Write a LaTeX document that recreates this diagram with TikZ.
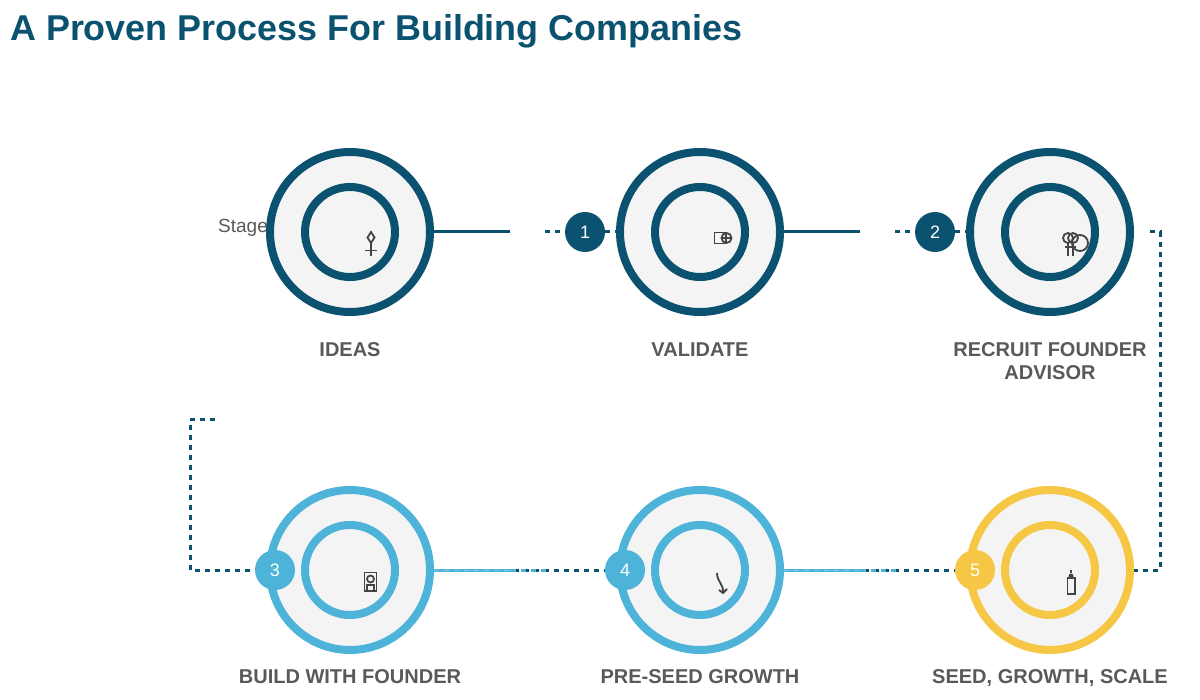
\documentclass[tikz,border=0pt]{standalone}
\usepackage{fontspec}
\setmainfont{Liberation Sans}
\usetikzlibrary{arrows,positioning,calc}
\definecolor{darkblue}{HTML}{0B5270}
\definecolor{lightblue}{HTML}{4DB3D8}
\definecolor{paleblue}{HTML}{7CC7E3}
\definecolor{sunyellow}{HTML}{F6C744}
\definecolor{ringfill}{HTML}{F4F4F4}
\definecolor{labelgray}{HTML}{595959}
\definecolor{icongray}{HTML}{444444}
\tikzset{
	outerring/.style={circle,draw=#1,fill=ringfill,line width=8pt,minimum size=160pt,inner sep=0pt},
	innerring/.style={circle,draw=#1,line width=8pt,minimum size=90pt,inner sep=0pt},
	badge/.style={circle,fill=#1,minimum size=40pt,inner sep=0pt,text=white,font=\fontsize{18}{21}\selectfont},
	stagelabel/.style={anchor=base,align=center,text=labelgray,font=\fontsize{20}{23}\selectfont\bfseries,inner sep=0pt},
	solidlink/.style={draw=#1,line width=3pt},
	dashlink/.style={draw=#1,line width=3pt,dash pattern=on 5pt off 5pt},
	icon/.style={draw=icongray,line width=1.8pt}
}
\begin{document}
\begin{tikzpicture}[x=1pt,y=-1pt]
	\useasboundingbox (0,0) rectangle (1200,700);
	\node[anchor=base west,inner sep=0pt,text=darkblue,font=\fontsize{35.9}{40}\selectfont\bfseries] (title) at (10,41) {A Proven Process For Building Companies};
	\node[anchor=base west,inner sep=0pt,text=labelgray,font=\fontsize{19}{23}\selectfont] (stage) at (218,233) {Stage};

	\node[outerring=darkblue] (ideas) at (350,232) {};
	\node[outerring=darkblue] (validate) at (700,232) {};
	\node[outerring=darkblue] (recruit) at (1050,232) {};
	\node[outerring=lightblue] (build) at (350,570) {};
	\node[outerring=lightblue] (preseed) at (700,570) {};
	\node[outerring=sunyellow] (seed) at (1050,570) {};

	\node[innerring=darkblue] (ideasin) at (ideas) {};
	\node[innerring=darkblue] (validatein) at (validate) {};
	\node[innerring=darkblue] (recruitin) at (recruit) {};
	\node[innerring=lightblue] (buildin) at (build) {};
	\node[innerring=lightblue] (preseedin) at (preseed) {};
	\node[innerring=sunyellow] (seedin) at (seed) {};

	\node[badge=darkblue] (one) at (585,232) {1};
	\node[badge=darkblue] (two) at (935,232) {2};
	\node[badge=lightblue] (three) at (275,570) {3};
	\node[badge=lightblue] (four) at (625,570) {4};
	\node[badge=sunyellow] (five) at (975,570) {5};

	\node[stagelabel] (ideaslabel) at (350,357) {IDEAS};
	\node[stagelabel] (validatelabel) at (700,357) {VALIDATE};
	\node[stagelabel] (recruitlabel) at (1050,380) {RECRUIT FOUNDER\\ADVISOR};
	\node[stagelabel] (buildlabel) at (350,683) {BUILD WITH FOUNDER};
	\node[stagelabel] (preseedlabel) at (700,683) {PRE-SEED GROWTH};
	\node[stagelabel] (seedlabel) at (1050,683) {SEED, GROWTH, SCALE};

	\coordinate (endone) at (510,232);
	\coordinate (startone) at (545,232);
	\coordinate (endtwo) at (860,232);
	\coordinate (starttwo) at (895,232);
	\coordinate (rightstart) at (1150,232);
	\coordinate (righttop) at (1160,232);
	\coordinate (rightbottom) at (1160,570);
	\coordinate (leftstart) at (215,420);
	\coordinate (lefttop) at (190,420);
	\coordinate (leftbottom) at (190,570);
	\coordinate (endfour) at (515,570);
	\coordinate (fadefour) at (547,570);
	\coordinate (endfive) at (865,570);
	\coordinate (fadefive) at (897,570);

	\draw[solidlink=darkblue] (ideas.east)--(endone);
	\draw[dashlink=darkblue] (startone)--(one.west);
	\draw[dashlink=darkblue] (one.east)--(validate.west);
	\draw[solidlink=darkblue] (validate.east)--(endtwo);
	\draw[dashlink=darkblue] (starttwo)--(two.west);
	\draw[dashlink=darkblue] (two.east)--(recruit.west);
	\draw[dashlink=darkblue] (rightstart)--(righttop)--(rightbottom)--(seed.east);
	\draw[dashlink=darkblue] (leftstart)--(lefttop)--(leftbottom)--(three.west);
	\draw[dashlink=darkblue] (build.east)--(four.west);
	\draw[dashlink=darkblue] (preseed.east)--(five.west);
	\draw[solidlink=lightblue] (build.east)--(endfour);
	\draw[dashlink=lightblue,dash phase=4pt] (endfour)--(fadefour);
	\draw[solidlink=lightblue] (preseed.east)--(endfive);
	\draw[dashlink=lightblue,dash phase=4pt] (endfive)--(fadefive);
	\draw[draw=paleblue,line width=0.8pt,dash pattern=on 5pt off 5pt] (build.east)--(endfour);
	\draw[draw=paleblue,line width=0.8pt,dash pattern=on 5pt off 5pt] (preseed.east)--(endfive);

	\draw[icon] (371,232)--(374.5,237.5)--(371,243)--(367.5,237.5)--cycle;
	\draw[icon] (371,243)--(371,256);
	\draw[icon] (365,250.5)--(377,250.5);

	\draw[icon] (714.5,232.5) rectangle (726,243.5);
	\draw[icon] (726.5,238) circle (5);
	\draw[icon] (726.5,233)--(726.5,243);
	\draw[icon] (721.5,238)--(731.5,238);

	\draw[icon] (1068,238) circle (5);
	\draw[icon] (1073,238) circle (5);
	\draw[icon] (1080,243) circle (8);
	\draw[icon] (1068,243)--(1068,256);
	\draw[icon] (1073,243)--(1073,256);
	\draw[icon] (1065,247)--(1076,247);

	\draw[icon] (364.5,572.5) rectangle (376.5,591);
	\draw[icon] (370.5,579) circle (3.5);
	\draw[icon] (367,585) rectangle (374,591);

	\draw[icon] (717,573)..controls (717,582) and (724,584)..(723,593);
	\draw[icon] (719,590)--(723,593)--(727,589);

	\draw[icon] (1067.5,578) rectangle (1075,594);
	\fill[icongray] (1071,576) circle (2.5);
	\draw[icon] (1071,570)--(1071,573);
\end{tikzpicture}
\end{document}
